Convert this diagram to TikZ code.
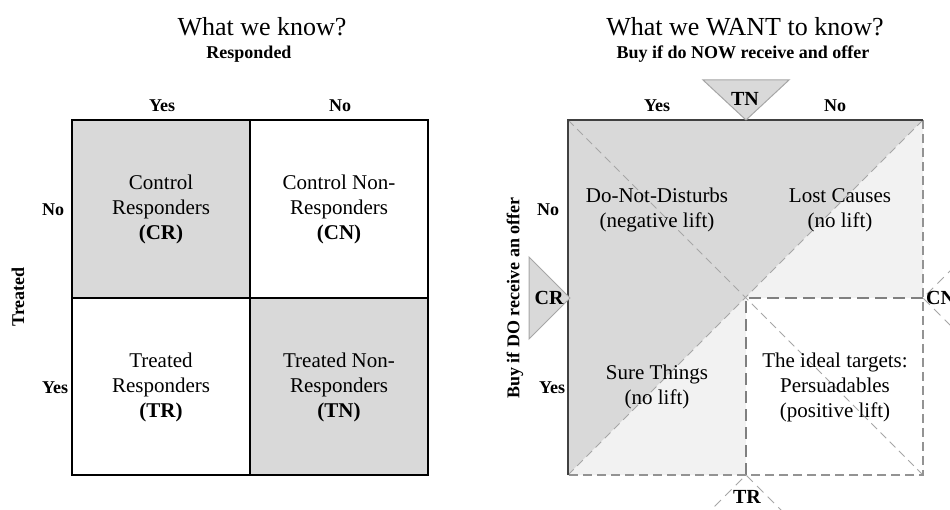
\documentclass[tikz,border=0pt]{standalone}
\usepackage{fontspec}
\setmainfont{Liberation Serif}
\definecolor{darkfill}{HTML}{D9D9D9}
\definecolor{lightfill}{HTML}{F2F2F2}
\definecolor{diaggray}{HTML}{A6A6A6}
\definecolor{quadgray}{HTML}{808080}
\definecolor{edgegray}{HTML}{404040}
\begin{document}
\begin{tikzpicture}[x=1pt,y=-1pt,
  titletext/.style={inner sep=0pt, font=\fontsize{26}{30}\selectfont},
  subtext/.style={inner sep=0pt, font=\bfseries\fontsize{18}{21}\selectfont},
  labtext/.style={inner sep=0pt, font=\bfseries\fontsize{18}{21}\selectfont},
  celltext/.style={inner sep=0pt, align=center, font=\fontsize{21}{25}\selectfont},
  tritext/.style={inner sep=0pt, font=\bfseries\fontsize{20}{24}\selectfont},
  gridline/.style={line width=1.8pt, black},
  diagline/.style={line width=1pt, diaggray, dash pattern=on 8pt off 5pt},
  quadline/.style={line width=2pt, quadgray, dash pattern=on 12pt off 6pt},
  edgedash/.style={line width=1.5pt, quadgray!85, dash pattern=on 9pt off 5pt},
  edgesolid/.style={line width=1.5pt, edgegray},
  trifill/.style={fill=darkfill, draw=diaggray, line width=1pt},
  triopen/.style={draw=diaggray, line width=1pt, dash pattern=on 9pt off 6pt}
]
\clip (0,0) rectangle (950,510);

% ---------------- Left matrix ----------------
\coordinate (lTL) at (72,120);
\coordinate (lTM) at (250,120);
\coordinate (lTR) at (428,120);
\coordinate (lML) at (72,298);
\coordinate (lMM) at (250,298);
\coordinate (lMR) at (428,298);
\coordinate (lBL) at (72,475);
\coordinate (lBM) at (250,475);
\coordinate (lBR) at (428,475);
\fill[darkfill] (lTL) rectangle (lMM);
\fill[darkfill] (lMM) rectangle (lBR);
\draw[gridline] (lTL) rectangle (lBR);
\draw[gridline] (lTM) -- (lBM);
\draw[gridline] (lML) -- (lMR);

\node[titletext] (ltitle) at (262,27) {What we know?};
\node[subtext] (lsub) at (249,54) {Responded};
\node[labtext] (lcolyes) at (162,106) {Yes};
\node[labtext] (lcolno) at (340,106) {No};
\node[labtext, anchor=west] (lrowno) at (42,210) {No};
\node[labtext, anchor=west] (lrowyes) at (42,388) {Yes};
\node[labtext, rotate=90] (ltreated) at (18,297) {Treated};

\node[celltext] (cr) at (161,209) {Control\\Responders\\\textbf{(CR)}};
\node[celltext] (cn) at (339,209) {Control Non-\\Responders\\\textbf{(CN)}};
\node[celltext] (tr) at (161,387) {Treated\\Responders\\\textbf{(TR)}};
\node[celltext] (tn) at (339,387) {Treated Non-\\Responders\\\textbf{(TN)}};

% ---------------- Right matrix ----------------
\coordinate (rTL) at (568,120);
\coordinate (rTM) at (746,120);
\coordinate (rTR) at (923,120);
\coordinate (rML) at (568,298);
\coordinate (rMM) at (746,298);
\coordinate (rMR) at (923,298);
\coordinate (rBL) at (568,475);
\coordinate (rBM) at (746,475);
\coordinate (rBR) at (923,475);

\fill[darkfill] (rTL) -- (rTR) -- (rBL) -- cycle;
\fill[lightfill] (rTR) -- (rBR) -- (rBL) -- cycle;
\fill[white] (rMM) rectangle (rBR);

\draw[diagline] (rTL) -- (rBR);
\draw[diagline] (rBL) -- (rTR);
\draw[quadline] (rMR) -- (rMM) -- (rBM);
\draw[edgedash] (rTR) -- (rBR) -- (rBL);
\draw[edgesolid] (rBL) -- (rTL) -- (rTR);

% marker triangles
\draw[trifill] (703,80) -- (789,80) -- (rTM) -- cycle;
\draw[trifill] (529,257) -- (529,339) -- (570,298) -- cycle;
\draw[triopen] (704,517) -- (rBM) -- (788,517);
\draw[triopen] (965,256) -- (rMR) -- (965,340);

\node[tritext] (mtn) at (745,99) {TN};
\node[tritext] (mcr) at (549,298) {CR};
\node[tritext] (mtr) at (747,497) {TR};
\node[tritext, anchor=west] (mcn) at (926,298) {CN};

\node[titletext] (rtitle) at (745,27) {What we WANT to know?};
\node[subtext] (rsub) at (743,54) {Buy if do NOW receive and offer};
\node[labtext] (rcolyes) at (657,106) {Yes};
\node[labtext] (rcolno) at (835,106) {No};
\node[labtext] (rrowno) at (548,210) {No};
\node[labtext] (rrowyes) at (552,388) {Yes};
\node[labtext, rotate=90] (rbuy) at (515,298) {Buy if DO receive an offer};

\node[celltext] (dnd) at (657,210) {Do-Not-Disturbs\\(negative lift)};
\node[celltext] (lost) at (840,210) {Lost Causes\\(no lift)};
\node[celltext] (sure) at (657,387) {Sure Things\\(no lift)};
\node[celltext] (pers) at (835,387) {The ideal targets:\\Persuadables\\(positive lift)};
\end{tikzpicture}
\end{document}
